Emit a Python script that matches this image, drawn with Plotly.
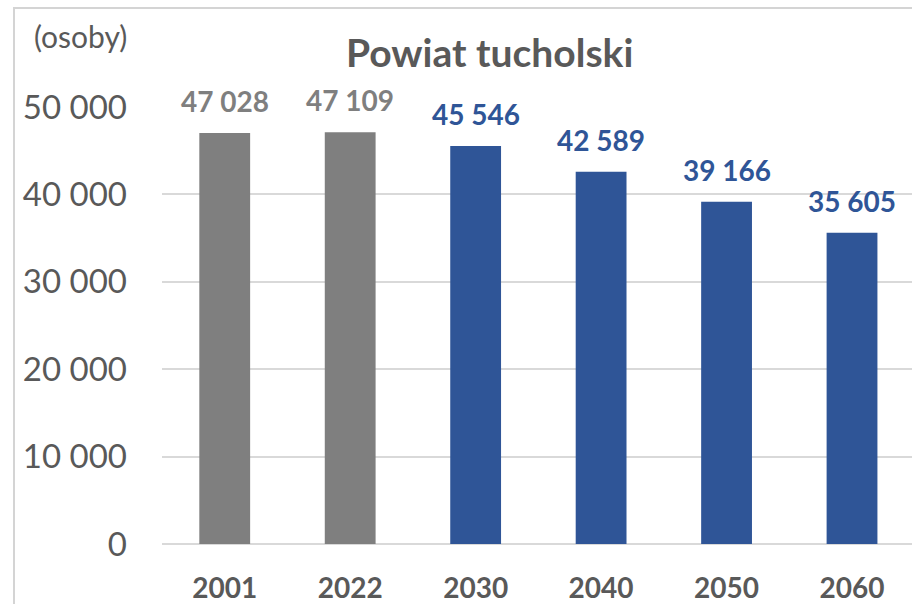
import plotly.graph_objects as go

# Population of Powiat tucholski: observed years and projections
years = ["2001", "2022", "2030", "2040", "2050", "2060"]
population = [47028, 47109, 45546, 42589, 39166, 35605]
is_projection = [False, False, True, True, True, True]

y_ticks = [0, 10000, 20000, 30000, 40000, 50000]
y_tick_labels = ["0", "10 000", "20 000", "30 000", "40 000", "50 000"]

GRAY = "#7f7f7f"
BLUE = "#2f5597"
TEXT = "#595959"
FONT = "Lato"

W, H = 912, 604
L, R, T, B = 162, 0, 107, 60
plot_w = W - L - R
plot_h = H - T - B


def px_to_paper_x(px):
    return (px - L) / plot_w


def px_to_paper_y(py):
    return (H - B - py) / plot_h


def fmt(v):
    return f"{v:,}".replace(",", " ")


bar_colors = [BLUE if p else GRAY for p in is_projection]

fig = go.Figure(
    go.Bar(
        x=years,
        y=population,
        marker=dict(color=bar_colors, line=dict(width=0)),
        width=0.405,
        hoverinfo="skip",
    )
)

# value labels above the bars (x given as category index)
for i, (val, proj) in enumerate(zip(population, is_projection)):
    fig.add_annotation(
        x=i, y=val, text=f"<b>{fmt(val)}</b>",
        showarrow=False, xanchor="center", yanchor="bottom", yshift=13,
        font=dict(family=FONT, size=28, color=BLUE if proj else GRAY),
    )

# chart title
fig.add_annotation(
    xref="paper", yref="paper",
    x=px_to_paper_x(489), y=px_to_paper_y(77),
    text="<b>Powiat tucholski</b>", showarrow=False,
    xanchor="center", yanchor="bottom",
    font=dict(family=FONT, size=39, color=TEXT),
)

# unit label
fig.add_annotation(
    xref="paper", yref="paper",
    x=px_to_paper_x(32), y=px_to_paper_y(56),
    text="(osoby)", showarrow=False,
    xanchor="left", yanchor="bottom",
    font=dict(family=FONT, size=30, color=TEXT),
)

# chart frame
fig.add_shape(
    type="rect", xref="paper", yref="paper",
    x0=px_to_paper_x(14), x1=px_to_paper_x(W + 20),
    y0=px_to_paper_y(H + 20), y1=px_to_paper_y(8),
    line=dict(color="#d4d4d4", width=2), layer="below",
)

fig.update_layout(
    width=W, height=H,
    margin=dict(l=L, r=R, t=T, b=B, pad=0),
    paper_bgcolor="white", plot_bgcolor="white",
    showlegend=False,
    bargap=0.6,
    xaxis=dict(
        type="category",
        range=[-0.5, 5.5 - 2.75 / 125.5],
        showgrid=False, zeroline=False, showline=False,
        ticks="", ticklabelstandoff=25,
        tickfont=dict(family=FONT, size=28, color=TEXT, weight="bold"),
        fixedrange=True,
    ),
    yaxis=dict(
        range=[0, 50000],
        tickvals=y_ticks, ticktext=y_tick_labels,
        showgrid=True, gridcolor="#d9d9d9", gridwidth=1.5,
        zeroline=True, zerolinecolor="#d9d9d9", zerolinewidth=1.5,
        showline=False, ticks="", ticklabelstandoff=34,
        tickfont=dict(family=FONT, size=33, color=TEXT),
        fixedrange=True,
    ),
)

fig.write_html("out.html")
